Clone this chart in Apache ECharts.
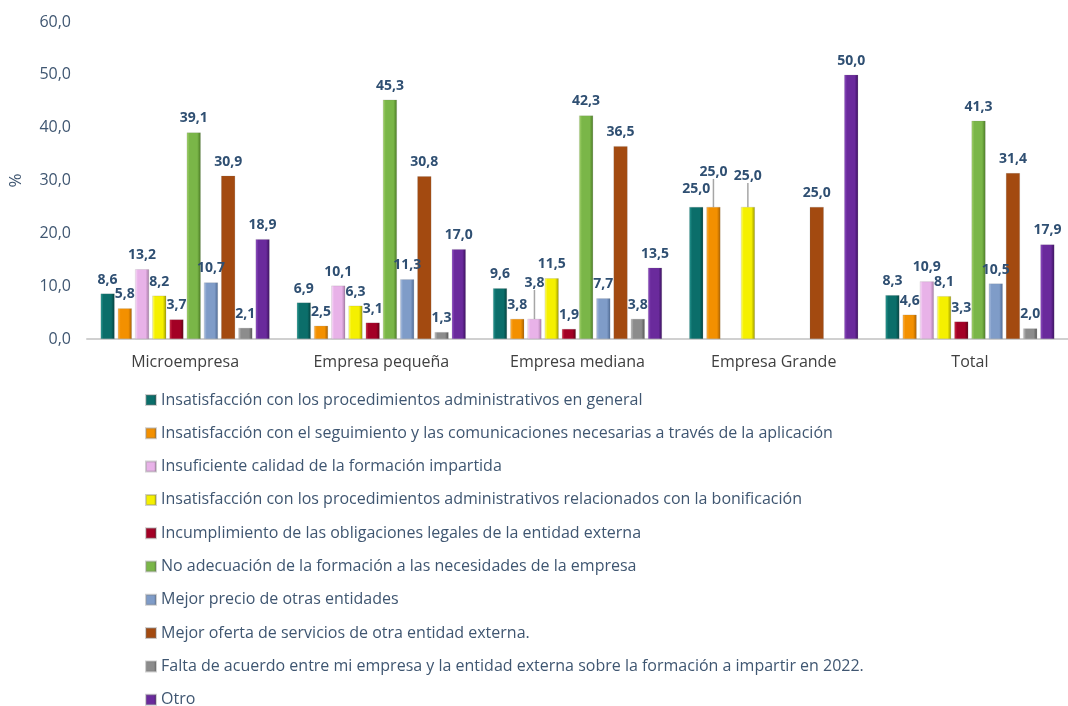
<!DOCTYPE html>
<html>
<head>
<meta charset="utf-8">
<script src="https://cdn.jsdelivr.net/npm/echarts@6/dist/echarts.min.js"></script>
<style>
html,body{margin:0;padding:0;background:#fff;}
#chart{width:1068px;height:706px;}
</style>
</head>
<body>
<div id="chart"></div>
<script>
var categories = ['Microempresa', 'Empresa pequeña', 'Empresa mediana', 'Empresa Grande', 'Total'];
var yTicks = [0, 10, 20, 30, 40, 50, 60];

var motivos = [
  'Insatisfacción con los procedimientos administrativos en general',
  'Insatisfacción con el seguimiento y las comunicaciones necesarias a través de la aplicación',
  'Insuficiente calidad de la formación impartida',
  'Insatisfacción con los procedimientos administrativos relacionados con la bonificación',
  'Incumplimiento de las obligaciones legales de la entidad externa',
  'No adecuación de la formación a las necesidades de la empresa',
  'Mejor precio de otras entidades',
  'Mejor oferta de servicios de otra entidad externa.',
  'Falta de acuerdo entre mi empresa y la entidad externa sobre la formación a impartir en 2022.',
  'Otro'
];

var insatGeneral   = [8.6, 6.9, 9.6, 25.0, 8.3];
var insatSeguim    = [5.8, 2.5, 3.8, 25.0, 4.6];
var insufCalidad   = [13.2, 10.1, 3.8, null, 10.9];
var insatBonif     = [8.2, 6.3, 11.5, 25.0, 8.1];
var incumplimiento = [3.7, 3.1, 1.9, null, 3.3];
var noAdecuacion   = [39.1, 45.3, 42.3, null, 41.3];
var mejorPrecio    = [10.7, 11.3, 7.7, null, 10.5];
var mejorOferta    = [30.9, 30.8, 36.5, 25.0, 31.4];
var faltaAcuerdo   = [2.1, 1.3, 3.8, null, 2.0];
var otro           = [18.9, 17.0, 13.5, 50.0, 17.9];

var valores = [insatGeneral, insatSeguim, insufCalidad, insatBonif, incumplimiento,
               noAdecuacion, mejorPrecio, mejorOferta, faltaAcuerdo, otro];

// [claro, base, oscuro]
var colores = [
  ['#2a9a94', '#0b6e6a', '#04403e'],
  ['#ffb347', '#f39000', '#a85f00'],
  ['#fbe2fb', '#e8b2e8', '#a57aa5'],
  ['#ffff80', '#f5f000', '#9c9900'],
  ['#d0304a', '#a30025', '#5e0014'],
  ['#a6d46e', '#7ab648', '#4a7a24'],
  ['#b0c4e4', '#7f9cc8', '#4e6a94'],
  ['#a34a10', '#a34a10', '#a34a10'],
  ['#c4c4c4', '#8c8c8c', '#555555'],
  ['#9050c4', '#6a2a9c', '#3a0f5e']
];

// etiquetas movidas a mano en el original: serie -> {categoría: dy}
var desplazamientos = { 0: { 3: -4 }, 1: { 3: -21 }, 2: { 2: -22 }, 3: { 3: -17 } };
// las que llevan línea guía
var conLinea = { 1: [3], 2: [2], 3: [3] };

function fmt(v) { return v.toFixed(1).replace('.', ','); }

function relleno(c) {
  return new echarts.graphic.LinearGradient(0, 0, 1, 0, [
    { offset: 0, color: c[0] },
    { offset: 0.2, color: c[1] },
    { offset: 0.75, color: c[1] },
    { offset: 1, color: c[2] }
  ]);
}

var series = motivos.map(function (m, i) {
  var d = desplazamientos[i] || {};
  var lineas = conLinea[i] || [];
  return {
    name: m,
    type: 'bar',
    data: valores[i].map(function (v, j) {
      return lineas.indexOf(j) >= 0 ? { value: v, labelLine: { show: true } } : v;
    }),
    barWidth: 14,
    barGap: '23%',
    itemStyle: { color: relleno(colores[i]), borderColor: 'rgba(120,120,120,0.35)', borderWidth: 0.5 },
    label: {
      show: true,
      position: 'top',
      distance: 7,
      color: '#2f4f72',
      fontWeight: 'bold',
      fontSize: 14,
      fontFamily: 'Open Sans',
      formatter: function (p) { return fmt(p.value); }
    },
    labelLine: { show: false, lineStyle: { color: '#a6a6a6', width: 1.5 } },
    labelLayout: function (p) {
      return d[p.dataIndex] ? { dy: d[p.dataIndex] } : {};
    }
  };
});

var chart = echarts.init(document.getElementById('chart'));
chart.setOption({
  animation: false,
  textStyle: { fontFamily: 'Open Sans' },
  color: colores.map(function (c) { return c[1]; }),
  grid: { left: 86, top: 22, width: 993, height: 317 },
  legend: {
    orient: 'vertical',
    left: 140,
    top: 387,
    height: 330,
    itemWidth: 10,
    itemHeight: 10,
    itemGap: 17.3,
    icon: 'rect',
    textStyle: { color: '#3f5671', fontSize: 16, fontFamily: 'Open Sans' },
    data: motivos
  },
  xAxis: {
    type: 'category',
    data: categories,
    axisLine: { lineStyle: { color: '#d0d0d0', width: 2 } },
    axisTick: { show: false },
    axisLabel: { color: '#404040', fontSize: 16, margin: 15 }
  },
  yAxis: {
    type: 'value',
    min: yTicks[0],
    max: yTicks[yTicks.length - 1],
    interval: 10,
    name: '%',
    nameLocation: 'middle',
    nameGap: 62,
    nameRotate: 90,
    nameTextStyle: { color: '#3f5671', fontSize: 17 },
    splitLine: { show: false },
    axisLine: { show: false },
    axisTick: { show: false },
    axisLabel: { color: '#3f5671', fontSize: 16, margin: 16, formatter: function (v) { return fmt(v); } }
  },
  series: series
});
</script>
</body>
</html>
